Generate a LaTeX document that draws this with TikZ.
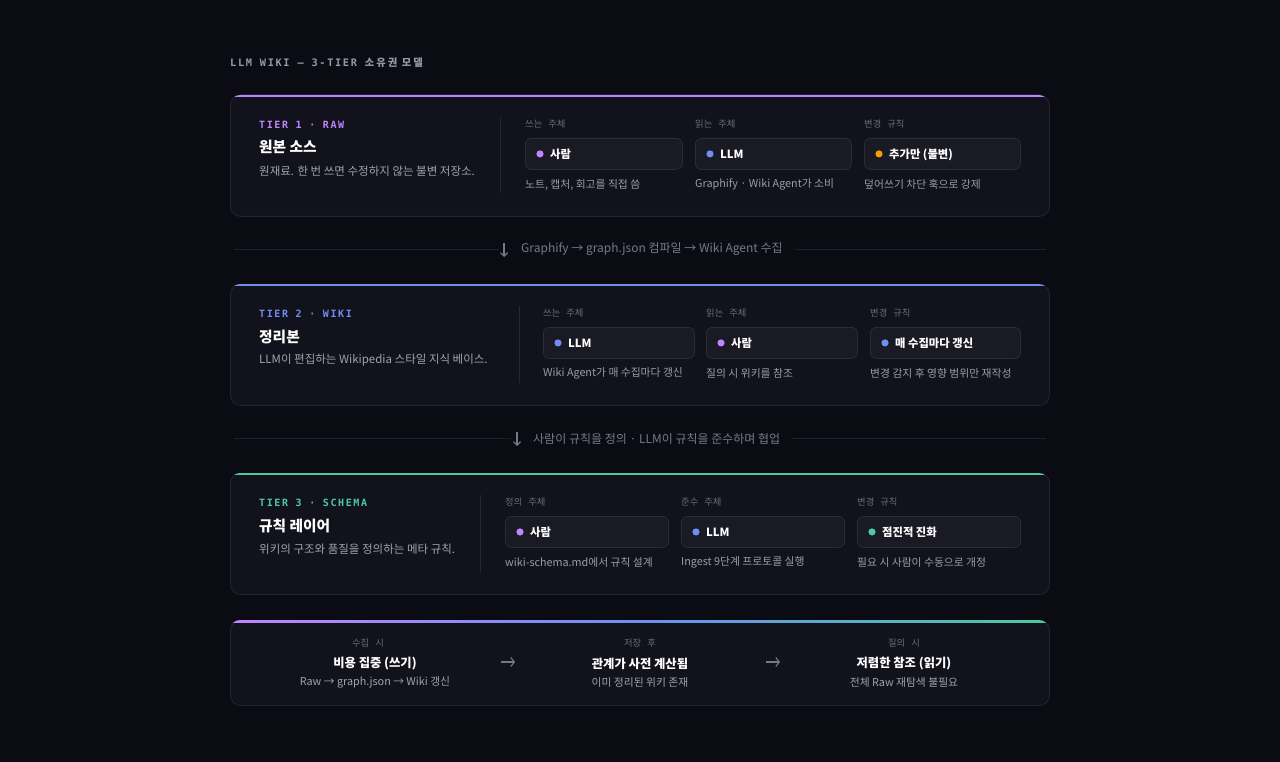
\documentclass[tikz,border=0pt]{standalone}
\usepackage{fontspec}
\setmainfont{Noto Sans CJK KR}
\newfontfamily\monof[LetterSpace=16]{DejaVu Sans Mono}
\newfontfamily\cjkls[LetterSpace=20]{Noto Sans CJK KR}
\usetikzlibrary{arrows.meta}
\newcommand\widespace{\spaceskip=6pt\relax}
\definecolor{bg}{HTML}{0B0C13}
\definecolor{cardbg}{HTML}{12121C}
\definecolor{cardline}{HTML}{24242F}
\definecolor{chipbg}{HTML}{1A1A25}
\definecolor{chipline}{HTML}{2C2C38}
\definecolor{sepline}{HTML}{20202B}
\definecolor{vline}{HTML}{272732}
\definecolor{cpurple}{HTML}{C084FC}
\definecolor{cblue}{HTML}{6E8EF2}
\definecolor{cgreen}{HTML}{4CC9A0}
\definecolor{corange}{HTML}{F59E0B}
\definecolor{tdesc}{HTML}{A2A2AF}
\definecolor{tlab}{HTML}{6C6C7A}
\definecolor{tsub}{HTML}{9C9CAA}
\definecolor{tdiv}{HTML}{777789}
\definecolor{thead}{HTML}{9898A6}
\tikzset{
  card/.style={fill=cardbg, draw=cardline, line width=0.8pt, rounded corners=10pt, anchor=north west, inner sep=0},
  chipbox/.style={fill=chipbg, draw=chipline, line width=0.8pt, rounded corners=6pt, anchor=north west, inner sep=0},
  tag/.style={anchor=west, inner sep=0, yshift=-0.8pt, font=\monof\bfseries\fontsize{10}{12}\selectfont},
  ttl/.style={anchor=west, inner sep=0, yshift=-0.8pt, text=white, font=\bfseries\fontsize{14.7}{17}\selectfont},
  desc/.style={anchor=west, inner sep=0, yshift=-0.8pt, text=tdesc, font=\fontsize{11.5}{13}\selectfont},
  lab/.style={anchor=west, inner sep=0, yshift=-0.8pt, text=tlab, font=\fontsize{9.3}{10}\selectfont\widespace},
  chiptxt/.style={anchor=west, inner sep=0, yshift=-0.5pt, text=white, font=\bfseries\fontsize{11.3}{13}\selectfont},
  sub/.style={anchor=west, inner sep=0, yshift=-0.8pt, text=tsub, font=\fontsize{10.8}{12}\selectfont},
  divtxt/.style={anchor=west, inner sep=0, yshift=-0.5pt, text=tdiv, font=\fontsize{12}{14}\selectfont},
  sep/.style={draw=sepline, line width=0.8pt},
  vsep/.style={draw=vline, line width=0.8pt},
  downarrow/.style={draw=tdiv, line width=1.1pt, -{Straight Barb[length=3.5pt,width=7pt]}},
  blab/.style={inner sep=0, yshift=-0.8pt, text=tlab, font=\fontsize{9.3}{10}\selectfont\widespace},
  bttl/.style={inner sep=0, yshift=-0.8pt, text=white, font=\bfseries\fontsize{12.3}{14}\selectfont},
  bsub/.style={inner sep=0, yshift=-0.8pt, text=tdesc, font=\fontsize{10.8}{12}\selectfont},
  rarrow/.style={draw=tdiv, line width=1.1pt, -{Straight Barb[length=3.5pt,width=9pt]}},
}
% chip: name, x, y(top), width, dot colour, text
\newcommand\mkchip[6]{%
  \node[chipbox, minimum width=#4pt, minimum height=31pt] (#1) at (#2,#3) {};
  \fill[#5] ([xshift=15pt]#1.west) circle (3.6pt);
  \node[chiptxt] (#1t) at ([xshift=25pt]#1.west) {#6};
}
\begin{document}
\begin{tikzpicture}[x=1pt,y=-1pt]
\fill[bg] (0,0) rectangle (1280,762);
\useasboundingbox (0,0) rectangle (1280,762);

% heading
\node[anchor=west, inner sep=0, text=thead] (head) at (230,63)
  {\monof\bfseries\fontsize{10.3}{12}\selectfont LLM WIKI — 3-TIER {\cjkls\fontsize{10.3}{12}\selectfont 소유권 모델}};

% ================= TIER 1
\node[card, minimum width=819pt, minimum height=121pt] (t1) at (230,95) {};
\begin{scope}
  \clip[rounded corners=10pt] (230,95) rectangle (1049,216);
  \fill[cpurple] (230,94) rectangle (1049,97);
\end{scope}
\node[tag, text=cpurple] (t1tag) at (259,124) {TIER 1 · RAW};
\node[ttl] (t1ttl) at (259,146) {원본 소스};
\node[desc] (t1desc) at (259,170) {원재료. 한 번 쓰면 수정하지 않는 불변 저장소.};
\coordinate (t1v1) at (500,117); \coordinate (t1v2) at (500,193);
\draw[vsep] (t1v1) -- (t1v2);
\node[lab] (t1l1) at (525,123) {쓰는 주체};
\node[lab] (t1l2) at (695,123) {읽는 주체};
\node[lab] (t1l3) at (864,123) {변경 규칙};
\mkchip{t1c1}{525}{138}{157}{cpurple}{사람}
\mkchip{t1c2}{695}{138}{156}{cblue}{LLM}
\mkchip{t1c3}{864}{138}{156}{corange}{추가만 (불변)}
\node[sub] (t1s1) at (525,184) {노트, 캡처, 회고를 직접 씀};
\node[sub] (t1s2) at (695,184) {Graphify · Wiki Agent가 소비};
\node[sub] (t1s3) at (864,184) {덮어쓰기 차단 훅으로 강제};

% divider 1
\coordinate (d1a) at (234,249);
\coordinate (d1b) at (1046,249);
\coordinate (d1r1) at (504,243); \coordinate (d1r2) at (504,257);
\draw[downarrow] (d1r1) -- (d1r2);
\node[divtxt] (d1t) at (521,249) {Graphify → graph.json 컴파일 → Wiki Agent 수집};
\draw[sep] (d1a) -- ([xshift=-22pt]d1t.west |- d1a);
\draw[sep] ([xshift=12pt]d1t.east |- d1b) -- (d1b);

% ================= TIER 2
\node[card, minimum width=819pt, minimum height=121pt] (t2) at (230,284) {};
\begin{scope}
  \clip[rounded corners=10pt] (230,284) rectangle (1049,405);
  \fill[cblue] (230,283) rectangle (1049,286);
\end{scope}
\node[tag, text=cblue] (t2tag) at (259,313) {TIER 2 · WIKI};
\node[ttl] (t2ttl) at (259,336) {정리본};
\node[desc] (t2desc) at (259,359) {LLM이 편집하는 Wikipedia 스타일 지식 베이스.};
\coordinate (t2v1) at (519,306); \coordinate (t2v2) at (519,383);
\draw[vsep] (t2v1) -- (t2v2);
\node[lab] (t2l1) at (543,312) {쓰는 주체};
\node[lab] (t2l2) at (706,312) {읽는 주체};
\node[lab] (t2l3) at (870,312) {변경 규칙};
\mkchip{t2c1}{543}{327}{151}{cblue}{LLM}
\mkchip{t2c2}{706}{327}{151}{cpurple}{사람}
\mkchip{t2c3}{870}{327}{150}{cblue}{매 수집마다 갱신}
\node[sub] (t2s1) at (543,373) {Wiki Agent가 매 수집마다 갱신};
\node[sub] (t2s2) at (706,373) {질의 시 위키를 참조};
\node[sub] (t2s3) at (870,373) {변경 감지 후 영향 범위만 재작성};

% divider 2
\coordinate (d2a) at (234,438);
\coordinate (d2b) at (1046,438);
\coordinate (d2r1) at (517,432); \coordinate (d2r2) at (517,446);
\draw[downarrow] (d2r1) -- (d2r2);
\node[divtxt] (d2t) at (533,438) {사람이 규칙을 정의 · LLM이 규칙을 준수하며 협업};
\draw[sep] (d2a) -- ([xshift=-22pt]d2t.west |- d2a);
\draw[sep] ([xshift=12pt]d2t.east |- d2b) -- (d2b);

% ================= TIER 3
\node[card, minimum width=819pt, minimum height=121pt] (t3) at (230,473) {};
\begin{scope}
  \clip[rounded corners=10pt] (230,473) rectangle (1049,594);
  \fill[cgreen] (230,472) rectangle (1049,475);
\end{scope}
\node[tag, text=cgreen] (t3tag) at (259,502) {TIER 3 · SCHEMA};
\node[ttl] (t3ttl) at (259,525) {규칙 레이어};
\node[desc] (t3desc) at (259,548) {위키의 구조와 품질을 정의하는 메타 규칙.};
\coordinate (t3v1) at (480,495); \coordinate (t3v2) at (480,572);
\draw[vsep] (t3v1) -- (t3v2);
\node[lab] (t3l1) at (505,501) {정의 주체};
\node[lab] (t3l2) at (681,501) {준수 주체};
\node[lab] (t3l3) at (857,501) {변경 규칙};
\mkchip{t3c1}{505}{516}{163}{cpurple}{사람}
\mkchip{t3c2}{681}{516}{163}{cblue}{LLM}
\mkchip{t3c3}{857}{516}{163}{cgreen}{점진적 진화}
\node[sub] (t3s1) at (505,562) {wiki-schema.md에서 규칙 설계};
\node[sub] (t3s2) at (681,562) {Ingest 9단계 프로토콜 실행};
\node[sub] (t3s3) at (857,562) {필요 시 사람이 수동으로 개정};

% ================= BOTTOM
\node[card, minimum width=819pt, minimum height=85pt] (bc) at (230,620) {};
\begin{scope}
  \clip[rounded corners=10pt] (230,620) rectangle (1049,705);
  \shade[left color=cpurple, right color=cgreen, middle color=cblue, shading angle=90] (230,619) rectangle (1049,622);
\end{scope}
\node[blab] (b1l) at (368,642) {수집 시};
\node[bttl] (b1t) at (375,663) {비용 집중 (쓰기)};
\node[bsub] (b1s) at (375,682) {Raw → graph.json → Wiki 갱신};
\node[blab] (b2l) at (640,642) {저장 후};
\node[bttl] (b2t) at (640,663) {관계가 사전 계산됨};
\node[bsub] (b2s) at (640,682) {이미 정리된 위키 존재};
\node[blab] (b3l) at (904,642) {질의 시};
\node[bttl] (b3t) at (904,663) {저렴한 참조 (읽기)};
\node[bsub] (b3s) at (904,682) {전체 Raw 재탐색 불필요};
\coordinate (a1a) at (501,662); \coordinate (a1b) at (515,662);
\coordinate (a2a) at (766,662); \coordinate (a2b) at (780,662);
\draw[rarrow] (a1a) -- (a1b);
\draw[rarrow] (a2a) -- (a2b);
\end{tikzpicture}
\end{document}
